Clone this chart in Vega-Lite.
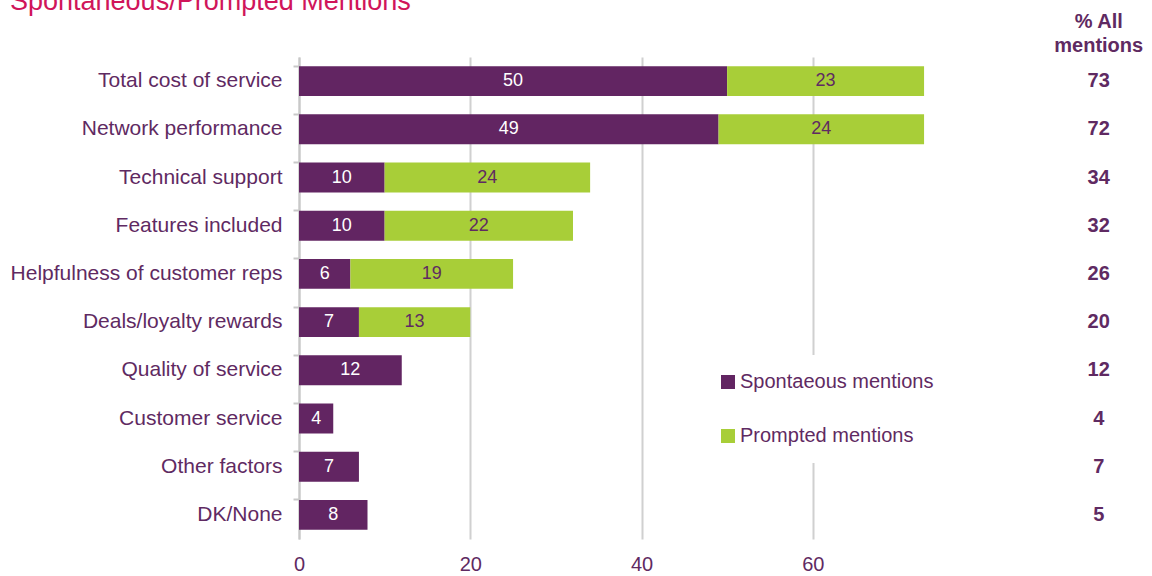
{
  "$schema": "https://vega.github.io/schema/vega-lite/v6.json",
  "autosize": "none",
  "width": 685,
  "height": 482,
  "padding": {"left": 299, "top": 57, "right": 168, "bottom": 37},
  "background": "white",
  "config": {
    "font": "Liberation Sans",
    "view": {"stroke": null},
    "text": {"font": "Liberation Sans"}
  },
  "title": {
    "text": "Spontaneous/Prompted Mentions",
    "anchor": "start",
    "orient": "top",
    "frame": "group",
    "dx": -289,
    "dy": 25,
    "offset": 0,
    "baseline": "alphabetic",
    "fontSize": 27,
    "fontWeight": "normal",
    "color": "#d0155a",
    "font": "Liberation Sans"
  },
  "datasets": {
    "bars": [
      {"cat": "Total cost of service", "series": "Spontaeous mentions", "value": 50},
      {"cat": "Total cost of service", "series": "Prompted mentions", "value": 23},
      {"cat": "Network performance", "series": "Spontaeous mentions", "value": 49},
      {"cat": "Network performance", "series": "Prompted mentions", "value": 24},
      {"cat": "Technical support", "series": "Spontaeous mentions", "value": 10},
      {"cat": "Technical support", "series": "Prompted mentions", "value": 24},
      {"cat": "Features included", "series": "Spontaeous mentions", "value": 10},
      {"cat": "Features included", "series": "Prompted mentions", "value": 22},
      {"cat": "Helpfulness of customer reps", "series": "Spontaeous mentions", "value": 6},
      {"cat": "Helpfulness of customer reps", "series": "Prompted mentions", "value": 19},
      {"cat": "Deals/loyalty rewards", "series": "Spontaeous mentions", "value": 7},
      {"cat": "Deals/loyalty rewards", "series": "Prompted mentions", "value": 13},
      {"cat": "Quality of service", "series": "Spontaeous mentions", "value": 12},
      {"cat": "Customer service", "series": "Spontaeous mentions", "value": 4},
      {"cat": "Other factors", "series": "Spontaeous mentions", "value": 7},
      {"cat": "DK/None", "series": "Spontaeous mentions", "value": 8}
    ],
    "totals": [
      {"cat": "Total cost of service", "total": 73},
      {"cat": "Network performance", "total": 72},
      {"cat": "Technical support", "total": 34},
      {"cat": "Features included", "total": 32},
      {"cat": "Helpfulness of customer reps", "total": 26},
      {"cat": "Deals/loyalty rewards", "total": 20},
      {"cat": "Quality of service", "total": 12},
      {"cat": "Customer service", "total": 4},
      {"cat": "Other factors", "total": 7},
      {"cat": "DK/None", "total": 5}
    ],
    "header": [
      {"cat": "Total cost of service", "label": ["% All", "mentions"]}
    ]
  },
  "encoding": {
    "y": {
      "field": "cat",
      "type": "nominal",
      "title": null,
      "scale": {
        "domain": ["Total cost of service", "Network performance", "Technical support", "Features included", "Helpfulness of customer reps", "Deals/loyalty rewards", "Quality of service", "Customer service", "Other factors", "DK/None"],
        "paddingInner": 0.38,
        "paddingOuter": 0.19
      },
      "axis": {
        "bandPosition": 0,
        "domainColor": "#c8c8c8",
        "domainWidth": 2,
        "tickColor": "#c8c8c8",
        "tickWidth": 2,
        "tickSize": 6,
        "labelPadding": 11,
        "labelFontSize": 21,
        "labelColor": "#5f2a62",
        "labelFont": "Liberation Sans",
        "labelLimit": 400,
        "grid": false
      }
    }
  },
  "layer": [
    {
      "data": {"name": "bars"},
      "mark": {"type": "bar"},
      "encoding": {
        "x": {
          "field": "value",
          "type": "quantitative",
          "stack": "zero",
          "title": null,
          "scale": {"domain": [0, 80], "nice": false},
          "axis": {
            "values": [0, 20, 40, 60],
            "grid": true,
            "gridColor": "#d0d0d0",
            "gridWidth": 2,
            "domain": false,
            "ticks": false,
            "labelFlush": false,
            "labelPadding": 15,
            "labelFontSize": 20,
            "labelColor": "#5f2a62",
            "labelFont": "Liberation Sans"
          }
        },
        "color": {
          "field": "series",
          "type": "nominal",
          "scale": {"domain": ["Spontaeous mentions", "Prompted mentions"], "range": ["#622562", "#a8ce38"]},
          "legend": {
            "title": null,
            "orient": "none",
            "legendX": 402,
            "legendY": 298,
            "padding": 17,
            "fillColor": "white",
            "symbolType": "square",
            "symbolSize": 196,
            "symbolStrokeWidth": 0,
            "labelFontSize": 20,
            "labelColor": "#5f2a62",
            "labelFont": "Liberation Sans",
            "labelOffset": 2,
            "rowPadding": 34,
            "labelLimit": 400
          }
        },
        "order": {"field": "series", "sort": "descending"}
      }
    },
    {
      "data": {"name": "bars"},
      "mark": {"type": "text", "fontSize": 18, "baseline": "middle", "align": "center"},
      "encoding": {
        "x": {"field": "value", "type": "quantitative", "stack": "zero", "bandPosition": 0.5},
        "detail": {"field": "series"},
        "order": {"field": "series", "sort": "descending"},
        "text": {"field": "value", "type": "quantitative"},
        "color": {
          "condition": {"test": "datum.series === 'Prompted mentions'", "value": "#5f2a62"},
          "value": "white"
        }
      }
    },
    {
      "data": {"name": "totals"},
      "mark": {"type": "text", "fontSize": 20, "fontWeight": "bold", "baseline": "middle", "align": "center", "color": "#5f2a62"},
      "encoding": {
        "x": {"datum": 93.4, "type": "quantitative"},
        "text": {"field": "total", "type": "quantitative"}
      }
    },
    {
      "data": {"name": "header"},
      "mark": {"type": "text", "fontSize": 20, "fontWeight": "bold", "baseline": "alphabetic", "align": "center", "color": "#5f2a62", "lineHeight": 24, "dy": -53},
      "encoding": {
        "x": {"datum": 93.4, "type": "quantitative"},
        "text": {"field": "label"}
      }
    }
  ]
}
